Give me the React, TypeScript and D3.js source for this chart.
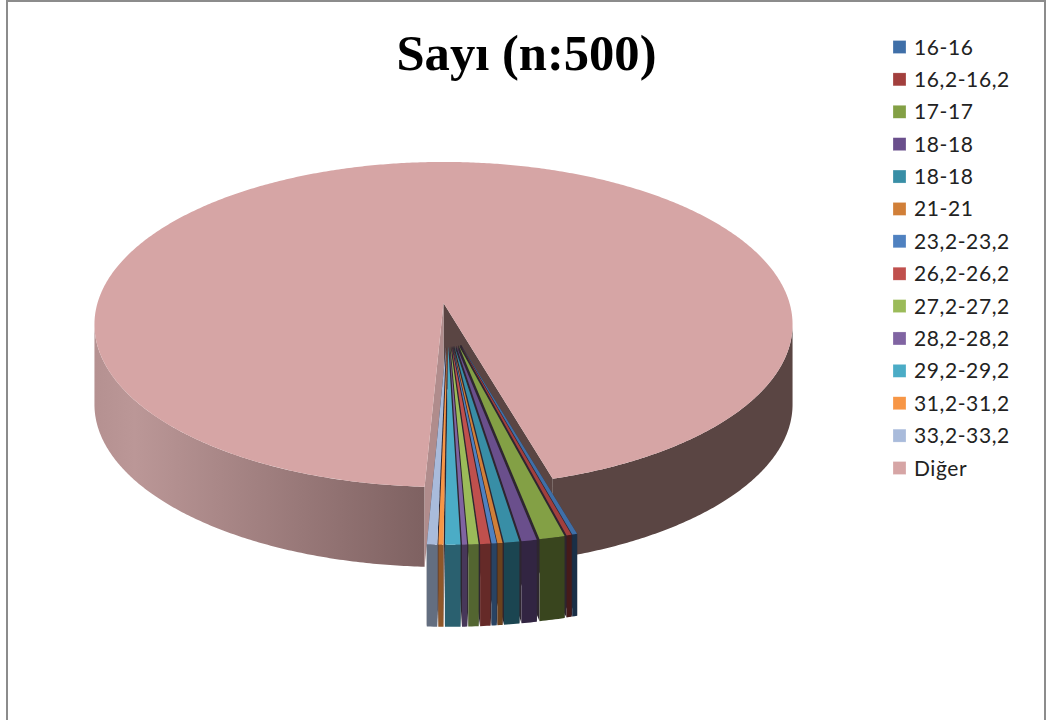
import React from "react";
import * as d3 from "d3";

// Respondent counts per category, out of 500
const categories = [
  "16-16", "16,2-16,2", "17-17", "18-18", "18-18", "21-21", "23,2-23,2",
  "26,2-26,2", "27,2-27,2", "28,2-28,2", "29,2-29,2", "31,2-31,2", "33,2-33,2", "Diğer",
];
const counts = [1, 1, 5, 3, 3, 1, 1, 2, 2, 1, 3, 1, 2, 474];
const colors = [
  "#3f6fa8", "#a23f3d", "#83a045", "#6a4f8c", "#388ea6", "#d17f38", "#4f81c0",
  "#c0504d", "#9bbb59", "#8064a2", "#4bacc6", "#f79646", "#a9bbdb", "#d6a5a5",
];
const title = "Sayı (n:500)";

const W = 1046;
const H = 720;
const DEG = Math.PI / 180;

type Pt = [number, number];

// Perspective projection of a point on the unit disc; angle 0 is the far side, clockwise.
// The disc point can be shifted by (ox, oy) in disc units before projecting.
const plane = { cx: 443.5, cy: 303, rx: 346, ry: 159.7, k: 0.132 };
const project = (angle: number, r = 1, ox = 0, oy = 0): Pt => {
  const u = r * Math.sin(angle) + ox;
  const v = -r * Math.cos(angle) + oy;
  const w = 1 - plane.k * v;
  return [plane.cx + (plane.rx * u) / w, plane.cy + (plane.ry * v) / w];
};

const depth = 80;
const pulledDepth = 82;
const explode = 0.262;

const arcs = d3
  .pie<number>()
  .sort(null)
  .startAngle(164 * DEG)
  .endAngle((164 + 360) * DEG)(counts);

const rest = arcs[arcs.length - 1];
const pulled = arcs.slice(0, -1);

const line = d3.line<Pt>();
const sweep = (a0: number, a1: number, ox = 0, oy = 0): Pt[] => {
  const n = Math.max(2, Math.ceil(Math.abs(a1 - a0) / (0.5 * DEG)));
  return d3.range(n + 1).map((i) => project(a0 + ((a1 - a0) * i) / n, 1, ox, oy));
};
const drop = (pts: Pt[], d: number): Pt[] => pts.map(([x, y]) => [x, y + d] as Pt);
const band = (pts: Pt[], d: number) => line([...pts, ...drop(pts, d).reverse()]) + "Z";

// Outline limits of the disc, where the side wall starts to show
const silhouette = Math.acos(-plane.k);
const rightWall = sweep(silhouette, rest.endAngle - 2 * Math.PI);
const leftWall = sweep(rest.startAngle, 2 * Math.PI - silhouette);

const apex = project(0, 0);
const cutLeft = project(rest.startAngle);
const cutRight = project(rest.endAngle);

// Each small slice moves out along its own bisector
const pulledSlices = pulled.map((d, i) => {
  const mid = (d.startAngle + d.endAngle) / 2;
  const ox = 0.012 + explode * 0.52 * Math.sin(mid);
  const oy = -explode * Math.cos(mid);
  const tip = project(0, 0, ox, oy);
  const rim = sweep(d.startAngle, d.endAngle, ox, oy);
  return { i, d, tip, rim };
});

const shade = d3
  .scaleLinear()
  .domain([pulled[0].startAngle, pulled[pulled.length - 1].endAngle])
  .range([0.58, 0.4]);

const legendY = d3.scaleLinear().domain([0, categories.length - 1]).range([47, 468]);

export default function App() {
  return (
    <svg
      width={W}
      height={H}
      viewBox={`0 0 ${W} ${H}`}
      style={{ position: "absolute", left: 0, top: 0, display: "block", background: "#fff" }}
    >
      <defs>
        <linearGradient id="wall-left" gradientUnits="userSpaceOnUse" x1={95} x2={426} y1={0} y2={0}>
          <stop offset="0" stopColor="#b59191" />
          <stop offset="0.12" stopColor="#bb9797" />
          <stop offset="1" stopColor="#7e6161" />
        </linearGradient>
      </defs>

      {/* Chart frame, open at the bottom */}
      <path d={`M7,${H}V1H1045V${H}`} fill="none" stroke="#8c8c8c" strokeWidth={2} />

      <text
        x={526.5}
        y={70}
        textAnchor="middle"
        fontFamily="'Liberation Serif', serif"
        fontWeight="bold"
        fontSize={50.6}
        fill="#000"
      >
        {title}
      </text>

      {/* Remaining share: side wall, cut faces and top */}
      <path d={band(rightWall, depth)} fill="#5a4543" />
      <path d={band(leftWall, depth)} fill="url(#wall-left)" />
      <path d={band([apex, cutRight], depth)} fill="#5a4543" />
      <path d={band([apex, cutLeft], depth)} fill="#b08c8c" />
      <path d={line([apex, ...sweep(rest.startAngle, rest.endAngle)]) + "Z"} fill={colors[colors.length - 1]} />

      {/* Pulled-out small categories: radial faces, outer walls, then tops */}
      {pulledSlices.map(({ i, tip, rim }) => (
        <g key={`faces-${i}`} fill="#2e2630">
          <path d={band([tip, rim[0]], pulledDepth)} />
          <path d={band([tip, rim[rim.length - 1]], pulledDepth)} />
        </g>
      ))}
      {pulledSlices.map(({ i, d, rim }) => (
        <path
          key={`wall-${i}`}
          d={band(rim, pulledDepth)}
          fill={d3.interpolateRgb(colors[i], "#000")(shade(d.startAngle))}
        />
      ))}
      {pulledSlices.map(({ i, tip, rim }) => (
        <path key={`top-${i}`} d={line([tip, ...rim]) + "Z"} fill={colors[i]} />
      ))}

      {/* Legend */}
      {categories.map((c, i) => (
        <g key={i} transform={`translate(0,${legendY(i)})`}>
          <rect x={893} y={-6.5} width={13} height={13} fill={colors[i]} stroke="#fff" strokeOpacity={0.5} strokeWidth={0.5} />
          <text x={914} y={7.5} fontFamily="Lato, sans-serif" fontSize={21} letterSpacing={0.6} fill="#222">
            {c}
          </text>
        </g>
      ))}
    </svg>
  );
}
